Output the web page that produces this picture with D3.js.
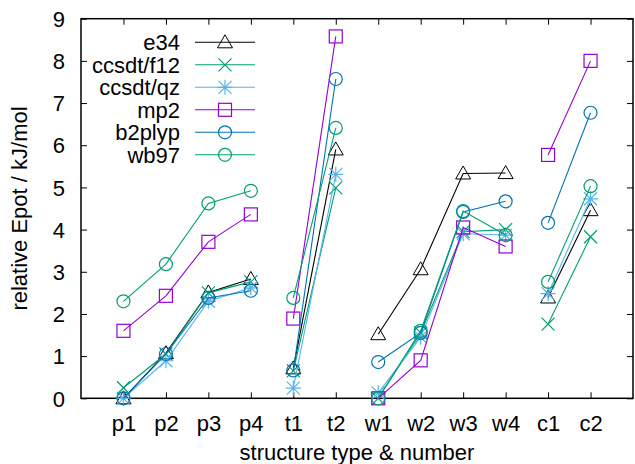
<!DOCTYPE html>
<html><head><meta charset="utf-8">
<script src="https://cdn.jsdelivr.net/npm/d3@7"></script>
<style>body{margin:0;background:#fff}svg{display:block}text{font-family:"Liberation Sans",Arial,sans-serif}</style>
</head><body><svg id="c" width="635" height="464"></svg>
<script>
const categories = ["p1","p2","p3","p4","t1","t2","w1","w2","w3","w4","c1","c2"];
const groups = [["p1","p2","p3","p4"],["t1","t2"],["w1","w2","w3","w4"],["c1","c2"]];
const yTicks = [0,1,2,3,4,5,6,7,8,9];
const seriesNames = ["e34","ccsdt/f12","ccsdt/qz","mp2","b2plyp","wb97"];
const e34      = [0.00,1.07,2.51,2.83,0.71,5.90,1.52,3.06,5.33,5.34,2.39,4.46];
const ccsdtF12 = [0.25,1.05,2.50,2.76,0.65,4.99,0.00,1.55,3.95,4.00,1.76,3.83];
const ccsdtQz  = [0.00,0.89,2.30,2.62,0.24,5.31,0.13,1.45,3.90,3.87,2.48,4.73];
const mp2      = [1.60,2.43,3.71,4.36,1.89,8.58,0.00,0.90,4.05,3.60,5.77,8.00];
const b2plyp   = [0.00,1.05,2.38,2.55,0.66,7.57,0.86,1.55,4.42,4.67,4.16,6.77];
const wb97     = [2.30,3.18,4.62,4.92,2.38,6.41,0.00,1.60,4.44,3.87,2.76,5.03];
const seriesValues = [e34,ccsdtF12,ccsdtQz,mp2,b2plyp,wb97];
const colors = ["#000000","#009e73","#56b4e9","#9400d3","#0072b2","#009e73"];
const markers = ["triangle","cross","star","square","circle","circle"];

const svg = d3.select("#c");
const L=81, R=633, T=18.7, B=398.3;
const x = d3.scalePoint().domain(["",...categories,"_"]).range([L,R]);
const y = d3.scaleLinear().domain([0,9]).range([B,T]);

const fs = "22px";
// axes
const gl = svg.append("g").attr("transform",`translate(${L},0)`)
  .call(d3.axisLeft(y).tickValues(yTicks).tickSize(-6).tickPadding(16).tickFormat(d3.format("d")));
const gr = svg.append("g").attr("transform",`translate(${R},0)`)
  .call(d3.axisRight(y).tickValues(yTicks).tickSize(-6).tickFormat(""));
const gb = svg.append("g").attr("transform",`translate(0,${B})`)
  .call(d3.axisBottom(x).tickValues(categories).tickSize(-6).tickPadding(17));
const gt = svg.append("g").attr("transform",`translate(0,${T})`)
  .call(d3.axisTop(x).tickValues(categories).tickSize(-6).tickFormat(""));
[gl,gr,gb,gt].forEach(g=>{g.select(".domain").remove();g.selectAll("line").attr("stroke","#000").attr("stroke-width",1);
  g.selectAll("text").attr("font-size",fs).attr("fill","#000").style("font-family","Liberation Sans, Arial, sans-serif");});
gl.selectAll("text").attr("dy","0.35em");
svg.append("rect").attr("x",L).attr("y",T).attr("width",R-L).attr("height",B-T)
  .attr("fill","none").attr("stroke","#000").attr("stroke-width",1.5);

svg.append("text").attr("x",(L+R)/2).attr("y",460).attr("text-anchor","middle").attr("font-size",fs).text("structure type & number");
svg.append("text").attr("transform",`translate(27,${(T+B)/2}) rotate(-90)`).attr("text-anchor","middle").attr("font-size",fs).text("relative Epot / kJ/mol");

function drawMarker(g,type,cx,cy,col){
  const s=6.5;
  if(type==="triangle"){
    g.append("path").attr("d",`M${cx},${cy-7.5}L${cx+7.5},${cy+5.5}L${cx-7.5},${cy+5.5}Z`).attr("fill","none").attr("stroke",col).attr("stroke-width",1);
  } else if(type==="cross"){
    g.append("path").attr("d",`M${cx-s},${cy-s}L${cx+s},${cy+s}M${cx-s},${cy+s}L${cx+s},${cy-s}`).attr("stroke",col).attr("stroke-width",1.2);
  } else if(type==="star"){
    g.append("path").attr("d",`M${cx-s},${cy-s}L${cx+s},${cy+s}M${cx-s},${cy+s}L${cx+s},${cy-s}M${cx-s-1},${cy}L${cx+s+1},${cy}M${cx},${cy-s-1}L${cx},${cy+s+1}`).attr("stroke",col).attr("stroke-width",1.2);
  } else if(type==="square"){
    g.append("rect").attr("x",cx-s).attr("y",cy-s).attr("width",2*s).attr("height",2*s).attr("fill","none").attr("stroke",col).attr("stroke-width",1.2);
  } else {
    g.append("circle").attr("cx",cx).attr("cy",cy).attr("r",s).attr("fill","none").attr("stroke",col).attr("stroke-width",1.2);
  }
}

const line = d3.line().x(d=>x(d.c)).y(d=>y(d.v));
seriesNames.forEach((name,i)=>{
  const g = svg.append("g");
  const vals = seriesValues[i];
  groups.forEach(grp=>{
    const pts = grp.map(c=>({c,v:vals[categories.indexOf(c)]}));
    g.append("path").attr("d",line(pts)).attr("fill","none").attr("stroke",colors[i]).attr("stroke-width",1.1);
  });
  categories.forEach((c,j)=>drawMarker(g,markers[i],x(c),y(vals[j]),colors[i]));
  // legend
  const ly = 42.3 + i*22.5;
  svg.append("text").attr("x",180).attr("y",ly).attr("dy","0.35em").attr("text-anchor","end").attr("font-size",fs).text(name);
  svg.append("line").attr("x1",195).attr("x2",255).attr("y1",ly).attr("y2",ly).attr("stroke",colors[i]).attr("stroke-width",1.1);
  drawMarker(svg,markers[i],225,ly,colors[i]);
});
</script></body></html>
